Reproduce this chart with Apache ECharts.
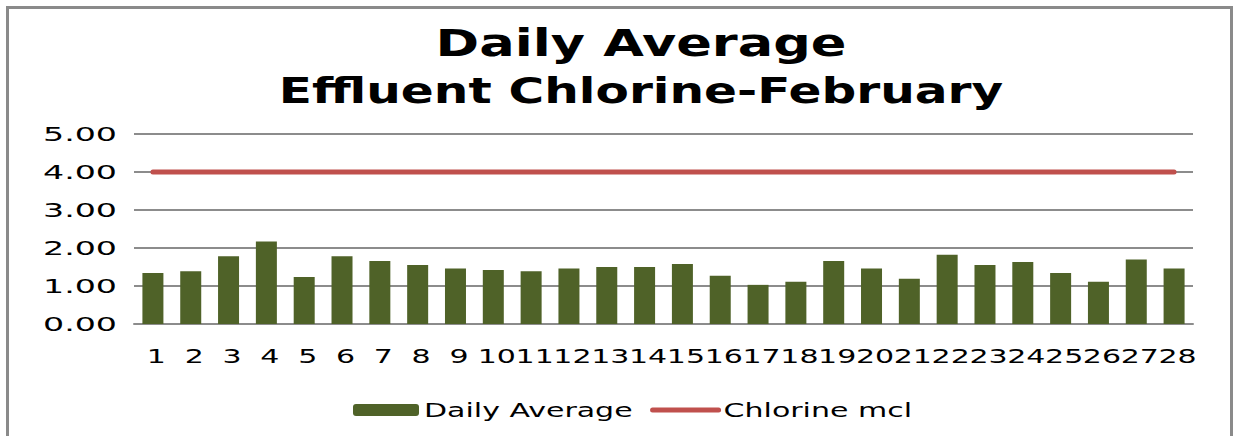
<!DOCTYPE html>
<html>
<head>
<meta charset="utf-8">
<title>Daily Average Effluent Chlorine - February</title>
<script src="https://cdn.jsdelivr.net/npm/echarts@6/dist/echarts.min.js"></script>
<style>
    html, body { margin: 0; padding: 0; background: #fff; overflow: hidden; }
    #chart { width: 1233px; height: 436px; }
    #frame {
        position: absolute; left: 6px; top: 6px; width: 1227px; height: 440px;
        box-sizing: border-box; border: 3px solid #8a8a8a; border-bottom: none;
        pointer-events: none;
    }
</style>
</head>
<body>
<div id="chart"></div>
<div id="frame"></div>
<script>
// days of February
var days = ['1', '2', '3', '4', '5', '6', '7', '8', '9', '10', '11', '12', '13', '14',
    '15', '16', '17', '18', '19', '20', '21', '22', '23', '24', '25', '26', '27', '28']
// daily average effluent chlorine
var dailyAverage = [1.34, 1.39, 1.78, 2.17, 1.24, 1.78, 1.66, 1.55, 1.46, 1.42, 1.39, 1.46, 1.50, 1.50,
    1.58, 1.27, 1.03, 1.11, 1.66, 1.46, 1.19, 1.82, 1.55, 1.63, 1.34, 1.11, 1.70, 1.46]
// chlorine mcl limit
var chlorineMcl = [4, 4, 4, 4, 4, 4, 4, 4, 4, 4, 4, 4, 4, 4,
    4, 4, 4, 4, 4, 4, 4, 4, 4, 4, 4, 4, 4, 4]
var yTicks = { min: 0, max: 5, interval: 1 }

var font = 'DejaVu Sans'
var gridGray = '#8c8c8c'
var red = '#C0504D'

// the Excel picture has horizontally stretched letters, factor per font size
var stretch = { 37: 1.42, 36: 1.35, 20: 1.5, 19: 1.75 }

var myChart = echarts.init(document.getElementById('chart'), null, { renderer: 'svg' })

var option = {
    backgroundColor: '#fff',
    animation: false,
    title: {
        text: 'Daily Average',
        subtext: 'Effluent Chlorine-February',
        left: 641,
        top: 20,
        padding: 0,
        itemGap: 0,
        textAlign: 'center',
        textStyle: {
            fontFamily: font,
            fontSize: 37,
            fontWeight: 'bold',
            lineHeight: 47,
            color: '#000'
        },
        subtextStyle: {
            fontFamily: font,
            fontSize: 36,
            fontWeight: 'bold',
            lineHeight: 47,
            color: '#000'
        }
    },
    legend: {
        left: 348,
        top: 395,
        itemWidth: 66,
        itemHeight: 12,
        itemGap: 87,
        textStyle: { fontFamily: font, fontSize: 20, color: '#000' },
        data: [
            { name: 'Daily Average' },
            {
                name: 'Chlorine mcl',
                itemStyle: { opacity: 0 },
                lineStyle: { color: red, width: 5, cap: 'round' }
            }
        ]
    },
    grid: { left: 134, right: 40, top: 134, bottom: 112 },
    xAxis: {
        type: 'category',
        data: days,
        axisLine: { lineStyle: { color: gridGray, width: 2 } },
        axisTick: { show: false },
        axisLabel: {
            interval: 0,
            margin: 22,
            fontFamily: font,
            fontSize: 20,
            color: '#000',
            padding: [0, 0, 0, 7]
        }
    },
    yAxis: {
        type: 'value',
        min: yTicks.min,
        max: yTicks.max,
        interval: yTicks.interval,
        axisLine: { show: false },
        axisTick: { show: false },
        splitLine: { lineStyle: { color: gridGray, width: 2 } },
        axisLabel: {
            margin: 17,
            fontFamily: font,
            fontSize: 19,
            color: '#000',
            formatter: function (v) { return v.toFixed(2) }
        }
    },
    series: [
        {
            name: 'Daily Average',
            type: 'bar',
            data: dailyAverage,
            barWidth: 21,
            itemStyle: { color: '#4F6228' }
        },
        {
            name: 'Chlorine mcl',
            type: 'line',
            data: chlorineMcl,
            symbol: 'none',
            lineStyle: { color: red, width: 5, cap: 'round' },
            itemStyle: { color: red }
        }
    ]
}

myChart.setOption(option)

// widen the svg texts like the stretched Excel font
function stretchTexts () {
    var texts = document.querySelectorAll('#chart svg text')
    for (var i = 0; i < texts.length; i++) {
        var t = texts[i]
        if (t.hasAttribute('textLength')) continue
        var k = stretch[Math.round(parseFloat(getComputedStyle(t).fontSize))]
        if (!k) continue
        var w = t.getComputedTextLength()
        t.setAttribute('textLength', (w * k).toFixed(1))
        t.setAttribute('lengthAdjust', 'spacingAndGlyphs')
    }
}
stretchTexts()
myChart.on('finished', stretchTexts)
</script>
</body>
</html>
